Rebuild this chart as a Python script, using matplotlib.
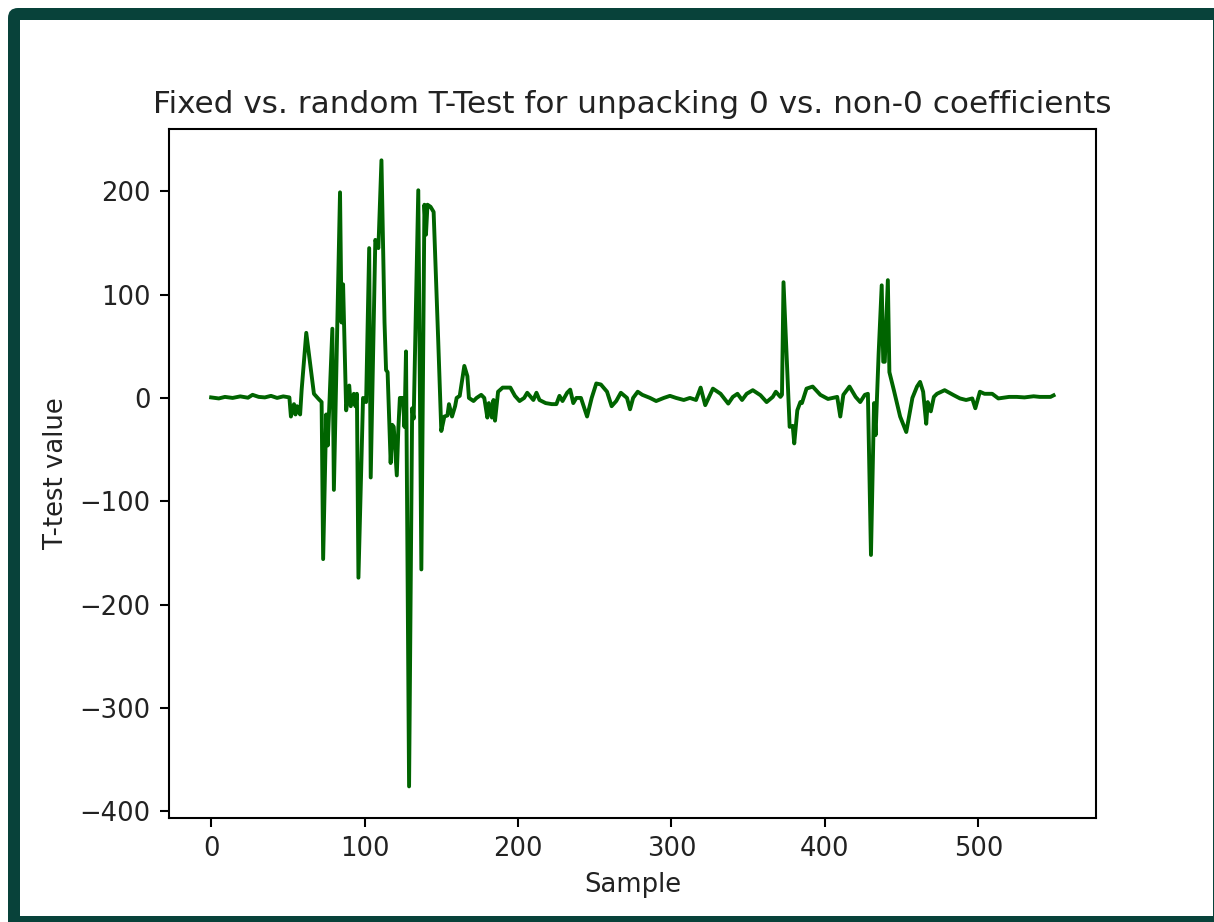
import numpy as np
import matplotlib
matplotlib.use("Agg")
import matplotlib.pyplot as plt
from matplotlib.patches import FancyBboxPatch, Rectangle
from matplotlib.transforms import IdentityTransform

# sample index / t-value vertices
samples = [0, 5, 9, 14, 19, 24, 27, 31, 35, 39, 43, 47, 51,
           52, 54, 55, 56, 58, 59, 62, 67, 70, 72, 73, 75, 76, 79, 80,
           84, 85, 86, 88, 90, 91, 93, 94, 95, 96, 99, 101, 103, 104,
           107, 109, 111, 113, 114, 115, 117, 118, 119, 121, 122, 123,
           125, 126, 127, 129, 131, 132, 135, 137, 139, 140, 141, 143,
           145, 148, 150, 152, 154, 155, 157, 159, 160, 162, 165, 167,
           168, 171, 173, 176, 178, 180, 181, 183, 184, 185, 187, 190,
           195, 198, 201, 204, 206, 210, 212, 214, 218, 222, 225, 227,
           229, 232, 234, 236, 238, 241, 245, 248, 251, 254, 258, 261,
           264, 267, 271, 273, 275, 278, 281, 286, 290, 295, 299, 303,
           308, 312, 316, 319, 322, 327, 332, 337, 340, 343, 346, 349,
           353, 358, 362, 366, 368, 371, 372, 373, 377, 379, 380, 382,
           384, 385, 388, 392, 397, 402, 408, 410, 412, 416, 420, 423,
           426, 428, 430, 432, 433, 435, 437, 438, 439, 441, 442, 445,
           449, 453, 457, 460, 462, 464, 466, 467, 469, 471, 473, 478,
           484, 488, 492, 496, 498, 501, 504, 509, 513, 520, 525, 530,
           536, 540, 545, 547, 549]
t_values = [0.5, -0.5, 1, 0, 1.5, 0.2, 3, 1, 0.5, 2, 0, 1.5, 0.5,
            -18, -6, -16, -8, -16, 8, 63, 4, -1, -4, -156, -16, -46, 67, -89,
            199, 73, 110, -12, 12, -8, 4, -8, 4, -174, 0, -4, 145, -77,
            153, 145, 230, 73, 27, 25, -63, -26, -28, -75, -30, 0,
            0, -28, 45, -376, -10, -20, 201, -166, 187, 158, 187, 185,
            180, 55, -32, -18, -17, -6, -18, -8, 0, 2, 31, 21,
            0, -3, 0, 3, 0, -19, -5, -19, -2, -22, 6, 10,
            10, 2, -3, 0, 5, -2, 5, -2, -5, -6, -6, 2,
            -3, 5, 8, -5, 0, 0, -18, 0, 14, 13, 6, -8,
            -3, 5, 0, -11, 0, 6, 3, 0, -3, 0, 2, 0,
            -2, 0, -2, 10, -7, 9, 4, -5.5, 1, 4, -2, 4,
            7.5, 2.6, -4, 1, 6, 1, 3, 112, -28, -27, -44, -12,
            -4, -5, 9, 11, 3, -1, 1, -18, 3, 11, 1, -4,
            3, 4, -152, -5, -36, 43, 109, 35, 35, 114, 25, 7,
            -18, -33, 0, 11, 15.5, 6, -25, -4, -13, 1, 4, 7.5,
            2.6, -0.5, -2, -0.5, -10, 6, 4, 4, -0.5, 1, 1, 0.5,
            1.6, 1, 1, 1, 2.5]

W, H = 1214, 922
k = 1.866  # scale of the embedded 640x480 plot

fig = plt.figure(figsize=(W / 100, H / 100), dpi=100, facecolor="white")

# dark green frame: rounded dark box, white panel on top
outer = FancyBboxPatch((8, -30), 1260, 944, boxstyle="round,pad=0,rounding_size=10",
                       transform=IdentityTransform(), facecolor="#08423a",
                       edgecolor="none", zorder=-3)
inner = Rectangle((20, 6), 1193, 896, transform=IdentityTransform(),
                  facecolor="white", edgecolor="none", zorder=-2)
fig.patches.extend([outer, inner])

ax = fig.add_axes([169 / W, 1 - 817.7 / H, (1095.7 - 169) / W, (817.7 - 129) / H])
ax.plot(samples, t_values, color="darkgreen", linewidth=1.5 * k)

ax.set_title("Fixed vs. random T-Test for unpacking 0 vs. non-0 coefficients",
             fontsize=12 * k, pad=6 * k, color="#222222")
ax.set_xlabel("Sample", fontsize=10 * k, labelpad=4 * k, color="#222222")
ax.set_ylabel("T-test value", fontsize=10 * k, labelpad=4 * k, color="#222222")
ax.tick_params(labelsize=10 * k, length=3.5 * k, width=0.8 * k, pad=3.5 * k,
               labelcolor="#222222")
for sp in ax.spines.values():
    sp.set_linewidth(0.8 * k)

fig.savefig("out.png", dpi=100, facecolor="white")
